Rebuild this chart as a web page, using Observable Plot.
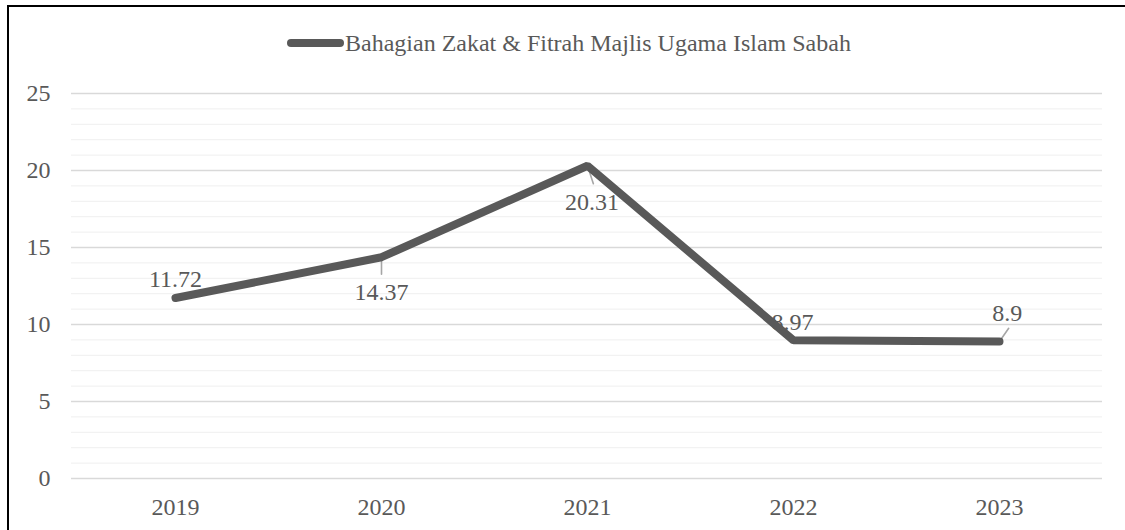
<!DOCTYPE html>
<html>
<head>
<meta charset="utf-8">
<script src="https://cdn.jsdelivr.net/npm/d3@7"></script>
<script src="https://cdn.jsdelivr.net/npm/@observablehq/plot@0.6"></script>
<style>
  html, body { margin: 0; padding: 0; background: #fff; overflow: hidden; width: 1125px; height: 530px; }
  #frame { position: absolute; left: 7px; top: 5px; width: 2000px; height: 2000px;
           border-top: 2px solid #000; border-left: 2px solid #000; }
  #legend { position: absolute; left: 287px; top: 31px; height: 24px; display: flex; align-items: center;
            font-family: "Liberation Serif", "Times New Roman", serif; font-size: 24px; color: #595959; line-height: 1; }
  #legend .sw { width: 57px; height: 8px; border-radius: 4px; background: #595959; margin-right: 1px; }
  #chart { position: absolute; left: 0; top: 70px; }
</style>
</head>
<body>
<div id="frame"></div>
<div id="legend"><span class="sw"></span><span id="legendText"></span></div>
<div id="chart"></div>
<script>
// ---- data ----
const years = ["2019", "2020", "2021", "2022", "2023"];
const values = [11.72, 14.37, 20.31, 8.97, 8.9];
const labels = ["11.72", "14.37", "20.31", "8.97", "8.9"];
const seriesName = "Bahagian Zakat & Fitrah Majlis Ugama Islam Sabah";
const yTicks = [0, 5, 10, 15, 20, 25];
const yMinor = d3.range(0, 26);

// ---- layout of data labels (pixel offsets) ----
const labelDx = [0, 0, 4.5, -1, 7.7];
const labelDy = [-18.5, 35, 36.3, -18.4, -28.4];
const leaderLen = [0, 17, 19, 0, 16];
const leaderRot = [0, 180, 162, 0, 35];

document.getElementById("legendText").textContent = seriesName;

const data = years.map((y, i) => ({
  year: y, value: values[i], label: labels[i],
  dx: labelDx[i], dy: labelDy[i], len: leaderLen[i], rot: leaderRot[i]
}));

const font = '"Liberation Serif", "Times New Roman", serif';
const ink = "#595959";

const chart = Plot.plot({
  width: 1125,
  height: 460,
  marginTop: 23,
  marginBottom: 52,
  marginLeft: 71,
  marginRight: 23,
  style: { fontFamily: font, fontSize: "24px", color: ink, background: "transparent", overflow: "visible" },
  x: { type: "point", domain: years, padding: 0.5, label: null },
  y: { domain: [0, 25], label: null },
  length: { type: "identity" },
  marks: [
    Plot.ruleY(yMinor, { stroke: "#efefef", strokeWidth: 1 }),
    Plot.ruleY(yTicks, { stroke: "#d9d9d9", strokeWidth: 1.3 }),
    Plot.axisY({ ticks: yTicks, tickSize: 0, tickPadding: 21, tickFormat: d => String(d), fill: ink, fontSize: 24, fontFamily: font }),
    Plot.axisX({ tickSize: 0, tickPadding: 19, fill: ink, fontSize: 24, fontFamily: font }),
    ...data.map(d => Plot.text([d], { x: "year", y: "value", text: "label", dx: d.dx, dy: d.dy,
      fill: ink, fontSize: 24, fontFamily: font })),
    Plot.vector(data.filter(d => d.len > 0), { x: "year", y: "value", length: "len", rotate: "rot",
      anchor: "start", stroke: "#a6a6a6", strokeWidth: 1.6, r: 0 }),
    Plot.line(data, { x: "year", y: "value", stroke: ink, strokeWidth: 8,
      strokeLinecap: "round", strokeLinejoin: "miter" })
  ]
});
document.getElementById("chart").appendChild(chart);
</script>
</body>
</html>
